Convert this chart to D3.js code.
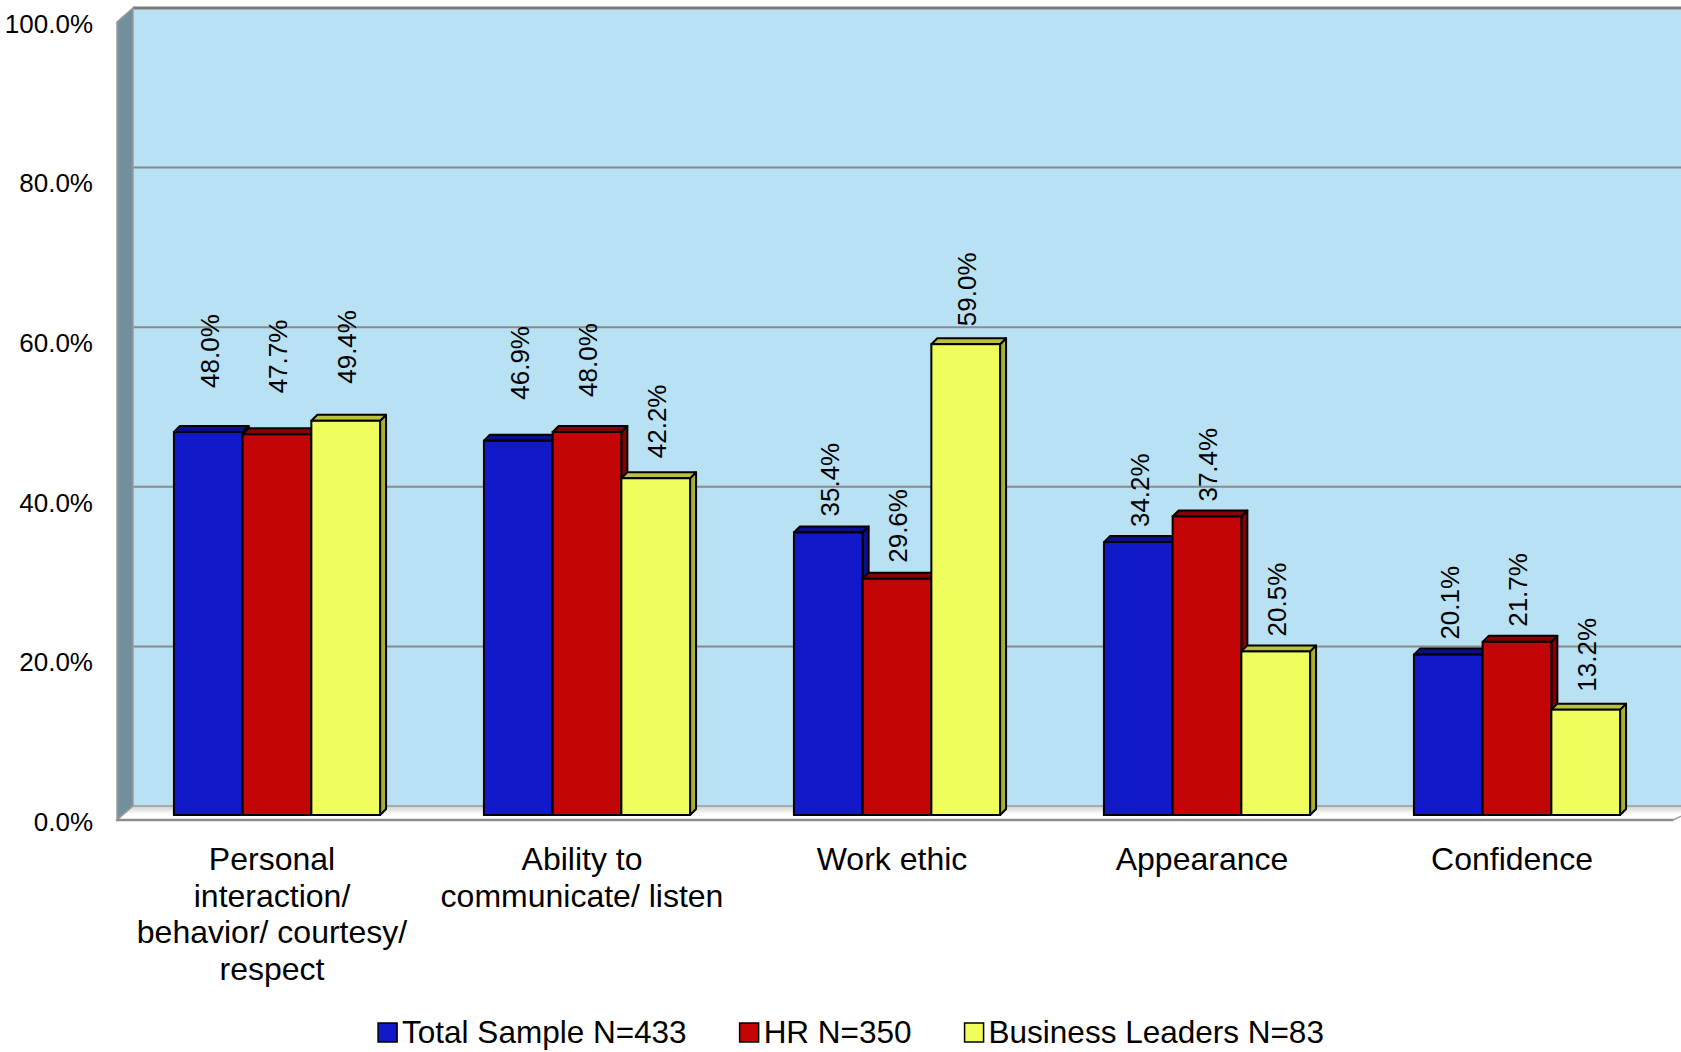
<!DOCTYPE html>
<html>
<head>
<meta charset="utf-8">
<script src="https://cdn.jsdelivr.net/npm/d3@7"></script>
<style>
  html, body { margin: 0; padding: 0; background: #ffffff; }
  svg { display: block; }
  text { font-family: "Liberation Sans", Arial, sans-serif; fill: #000; }
</style>
</head>
<body>
<svg id="chart" width="1681" height="1052"></svg>
<script>
// ---- data ----
const categories = [
  "Personal interaction/ behavior/ courtesy/ respect",
  "Ability to communicate/ listen",
  "Work ethic",
  "Appearance",
  "Confidence"
];
const categoryLines = [
  ["Personal", "interaction/", "behavior/ courtesy/", "respect"],
  ["Ability to", "communicate/ listen"],
  ["Work ethic"],
  ["Appearance"],
  ["Confidence"]
];
const seriesNames = ["Total Sample N=433", "HR N=350", "Business Leaders N=83"];
const totalSample = [48.0, 46.9, 35.4, 34.2, 20.1];
const hrValues = [47.7, 48.0, 29.6, 37.4, 21.7];
const businessLeaders = [49.4, 42.2, 59.0, 20.5, 13.2];
const yTicks = [0, 20, 40, 60, 80, 100];

// ---- layout / style ----
const seriesValues = [totalSample, hrValues, businessLeaders];
const colors = [
  { front: "#1219c9", top: "#0b0f8e", side: "#0b0f8e" },
  { front: "#c40505", top: "#8a0000", side: "#8a0000" },
  { front: "#effd5d", top: "#b9c13f", side: "#a8b032" }
];
// label gaps between bar top and rotated label (as placed in the original)
const labelGap = [[44, 41, 37], [41, 35, 20], [16, 16, 18], [15, 15, 15], [15, 15, 18]];

const svg = d3.select("#chart");
const defs = svg.append("defs");

// bar plane
const x0 = d3.scaleBand().domain(categories).range([122, 1672])
  .paddingInner(0.335).paddingOuter(0.1675);
const x1 = d3.scaleBand().domain(seriesNames).range([0, x0.bandwidth()]);
const y = d3.scaleLinear().domain([0, 100]).range([815, 17]);
// front plane (-5,+5) and back plane (+11,-9) relative to the bar plane
const FX = -5, FY = 5, BX = 11, BY = -9;
const yFront = d3.scaleLinear().domain([0, 100]).range([815 + FY, 17 + FY]);
const yBack = d3.scaleLinear().domain([0, 100]).range([815 + BY, 17 + BY]);
const leftFront = x0.range()[0] + FX, rightFront = x0.range()[1] + FX;
const leftBack = x0.range()[0] + BX, rightBack = x0.range()[1] + BX;

// back wall
svg.append("rect")
  .attr("x", leftBack).attr("y", yBack(100))
  .attr("width", rightBack - leftBack).attr("height", yBack(0) - yBack(100))
  .attr("fill", "#b8e1f4");
svg.append("line")
  .attr("x1", rightBack - 1).attr("x2", rightBack - 1)
  .attr("y1", yBack(100)).attr("y2", yBack(0))
  .attr("stroke", "#4d6470").attr("stroke-width", 2);

// gridlines on back wall
svg.append("g").selectAll("line").data(yTicks.filter(d => d > 0)).join("line")
  .attr("x1", leftBack).attr("x2", rightBack)
  .attr("y1", d => yBack(d)).attr("y2", d => yBack(d))
  .attr("stroke", d => d === 100 ? "#7a7a7a" : "#8a8a8a")
  .attr("stroke-width", d => d === 100 ? 3 : 2);

// side wall
svg.append("polygon")
  .attr("points", [
    [leftFront, yFront(100)], [leftBack, yBack(100)],
    [leftBack, yBack(0)], [leftFront, yFront(0)]
  ].map(p => p.join(",")).join(" "))
  .attr("fill", "#718f9c").attr("stroke", "#9a9a9a").attr("stroke-width", 1.5);

// floor
const floorGrad = defs.append("linearGradient").attr("id", "floorGrad")
  .attr("x1", 0).attr("y1", 0).attr("x2", 0).attr("y2", 1);
floorGrad.append("stop").attr("offset", "0%").attr("stop-color", "#cfcfcf");
floorGrad.append("stop").attr("offset", "60%").attr("stop-color", "#ffffff");
floorGrad.append("stop").attr("offset", "100%").attr("stop-color", "#ffffff");
svg.append("polygon")
  .attr("points", [
    [leftFront, yFront(0)], [leftBack, yBack(0)],
    [rightBack + 20, yBack(0)], [rightFront + 6, yFront(0)]
  ].map(p => p.join(",")).join(" "))
  .attr("fill", "url(#floorGrad)").attr("stroke", "#9a9a9a").attr("stroke-width", 1.5);
svg.append("line")
  .attr("x1", leftFront).attr("x2", rightFront + 6)
  .attr("y1", yFront(0)).attr("y2", yFront(0))
  .attr("stroke", "#8c8c8c").attr("stroke-width", 2.5);

// bars
const D = 6;
const barData = [];
categories.forEach((c, i) => {
  seriesNames.forEach((s, j) => {
    barData.push({ c, s, i, j, v: seriesValues[j][i] });
  });
});
const bars = svg.append("g").selectAll("g").data(barData).join("g");
bars.each(function(d) {
  const g = d3.select(this);
  const x = x0(d.c) + x1(d.s), w = x1.bandwidth();
  const yt = y(d.v), yb = y(0);
  const col = colors[d.j];
  g.append("polygon")
    .attr("points", [[x + w, yt], [x + w + D, yt - D], [x + w + D, yb - D], [x + w, yb]]
      .map(p => p.join(",")).join(" "))
    .attr("fill", col.side).attr("stroke", "#000").attr("stroke-width", 2).attr("stroke-linejoin", "round");
  g.append("polygon")
    .attr("points", [[x, yt], [x + D, yt - D], [x + w + D, yt - D], [x + w, yt]]
      .map(p => p.join(",")).join(" "))
    .attr("fill", col.top).attr("stroke", "#000").attr("stroke-width", 2).attr("stroke-linejoin", "round");
  g.append("rect")
    .attr("x", x).attr("y", yt).attr("width", w).attr("height", yb - yt)
    .attr("fill", col.front).attr("stroke", "#000").attr("stroke-width", 2);
});

// value labels (rotated)
svg.append("g").selectAll("text").data(barData).join("text")
  .attr("transform", d => {
    const cx = x0(d.c) + x1(d.s) + x1.bandwidth() / 2 + 1;
    const cy = y(d.v) - labelGap[d.i][d.j];
    return `translate(${cx},${cy}) rotate(-90)`;
  })
  .attr("dy", "0.36em")
  .attr("text-anchor", "start")
  .attr("font-size", 26)
  .text(d => d.v.toFixed(1) + "%");

// y axis labels
const yAxis = d3.axisLeft(yFront).tickValues(yTicks)
  .tickFormat(d => d.toFixed(1) + "%").tickSize(0).tickPadding(0);
const ya = svg.append("g").attr("transform", "translate(93,2)").call(yAxis);
ya.select(".domain").remove();
ya.selectAll("text").attr("font-size", 26).attr("font-family", "Liberation Sans, Arial, sans-serif")
  .attr("fill", "#000");

// category labels
const catG = svg.append("g").selectAll("text").data(categories).join("text")
  .attr("text-anchor", "middle")
  .attr("font-size", 32);
catG.each(function(c, i) {
  const t = d3.select(this);
  const cx = x0(c) + x0.bandwidth() / 2 + FX;
  categoryLines[i].forEach((line, k) => {
    t.append("tspan").attr("x", cx).attr("y", 870 + k * 36.5).text(line);
  });
});

// legend
const legend = svg.append("g");
const sq = 19, textOff = 24, itemGap = 53, legendBaseline = 1043, legendFont = 31.5;
const items = legend.selectAll("g").data(seriesNames).join("g");
items.append("rect")
  .attr("width", sq).attr("height", sq).attr("y", legendBaseline - sq - 1)
  .attr("fill", (d, j) => colors[j].front).attr("stroke", "#000").attr("stroke-width", 1.5);
items.append("text")
  .attr("x", textOff).attr("y", legendBaseline)
  .attr("font-size", legendFont)
  .text(d => d);
let cursor = 0;
const offsets = [];
items.each(function() {
  const tw = d3.select(this).select("text").node().getComputedTextLength();
  offsets.push(cursor);
  cursor += textOff + tw + itemGap;
});
const totalW = cursor - itemGap;
const legendStart = 851 - totalW / 2;
items.attr("transform", (d, j) => `translate(${legendStart + offsets[j]},0)`);
</script>
</body>
</html>
